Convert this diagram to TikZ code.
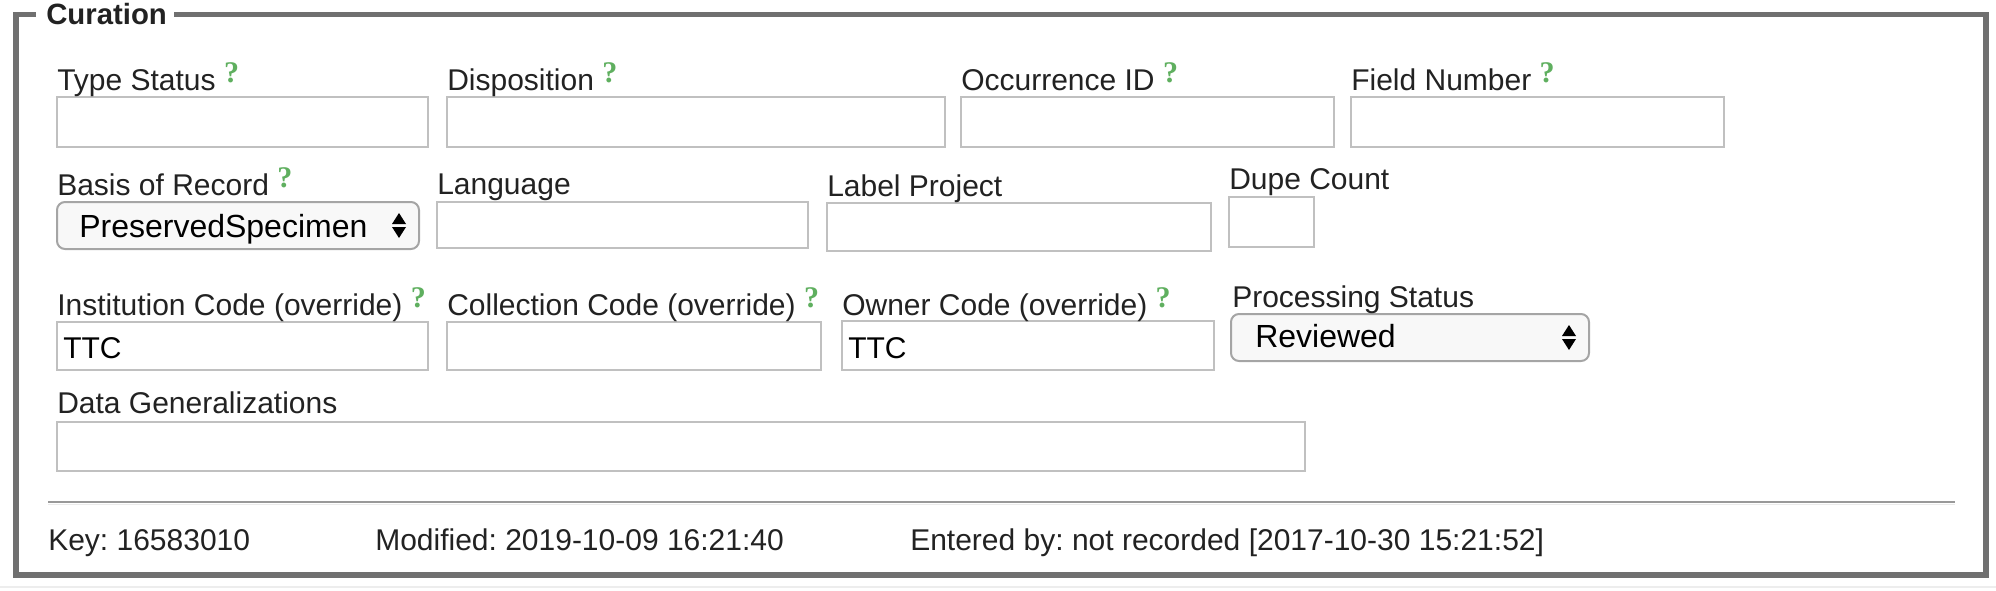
\documentclass[tikz,border=0pt]{standalone}
\usepackage{fontspec}
\setmainfont{Liberation Sans}
\newfontfamily\serifqm{Liberation Serif}
\usepackage{tikz}

\definecolor{labelgray}{RGB}{34,34,34}
\definecolor{helpgreen}{RGB}{95,175,95}
\definecolor{inputborder}{RGB}{192,192,192}
\definecolor{selectborder}{RGB}{165,165,165}
\definecolor{selectfill}{RGB}{248,248,248}
\definecolor{fieldsetgray}{RGB}{112,112,112}

\newcommand{\helpmark}{\raisebox{6pt}{\textcolor{helpgreen}{\serifqm\bfseries\fontsize{22.5}{22.5}\selectfont ?}}}

\tikzset{
  lbl/.style={anchor=base west, inner sep=0pt, text=labelgray, font=\fontsize{22.5}{26}\selectfont},
  val/.style={anchor=base west, inner sep=0pt, text=black, font=\fontsize{22.5}{26}\selectfont},
  selval/.style={anchor=base west, inner sep=0pt, text=black, font=\fontsize{24}{28}\selectfont},
  fieldbox/.style={draw=inputborder, line width=1.3pt, fill=white},
  selectbox/.style={draw=selectborder, line width=1.5pt, fill=selectfill, rounded corners=6pt},
}

\begin{document}
\frenchspacing
\begin{tikzpicture}[x=0.75pt,y=0.75pt,yscale=-1,xscale=1]
\useasboundingbox (0,0) rectangle (1996,590);

%Fieldset frame
\draw [color=black!7, line width=1.5pt] (0,587) -- (1996,587) ;
\draw [color=fieldsetgray, line width=3.8pt] (16,14.5) rectangle (1986,575) ;
\fill [white] (36,4) rectangle (174,26) ;
% Text Node
\node [anchor=base west, inner sep=0pt, text=labelgray, font=\bfseries\fontsize{22}{24}\selectfont] (legend) at (46,24) {Curation};

%Row 1
\draw [fieldbox] (57,97) rectangle (428,147) ;
\draw [fieldbox] (447,97) rectangle (945,147) ;
\draw [fieldbox] (961,97) rectangle (1334,147) ;
\draw [fieldbox] (1351,97) rectangle (1724,147) ;
% Text Node
\node [lbl] (typestatus) at (57,90) {Type Status \helpmark};
% Text Node
\node [lbl] (disposition) at (447,90) {Disposition \helpmark};
% Text Node
\node [lbl] (occurrenceid) at (961,90) {Occurrence ID \helpmark};
% Text Node
\node [lbl] (fieldnumber) at (1351,90) {Field Number \helpmark};

%Row 2
\draw [selectbox] (57,202) rectangle (419,249) ;
\fill [black] (392,224) -- (406,224) -- (399,213) -- cycle ;
\fill [black] (392,227) -- (406,227) -- (399,238) -- cycle ;
\draw [fieldbox] (437,202) rectangle (808,248) ;
\draw [fieldbox] (827,203) rectangle (1211,251) ;
\draw [fieldbox] (1229,197) rectangle (1314,247) ;
% Text Node
\node [lbl] (basisofrecord) at (57,195) {Basis of Record \helpmark};
% Text Node
\node [selval] (basisvalue) at (79,237) {PreservedSpecimen};
% Text Node
\node [lbl] (language) at (437,194) {Language};
% Text Node
\node [lbl] (labelproject) at (827,196) {Label Project};
% Text Node
\node [lbl] (dupecount) at (1229,189) {Dupe Count};

%Row 3
\draw [fieldbox] (57,322) rectangle (428,370) ;
\draw [fieldbox] (447,322) rectangle (821,370) ;
\draw [fieldbox] (842,321) rectangle (1214,370) ;
\draw [selectbox] (1231,314) rectangle (1589,361) ;
\fill [black] (1562,336) -- (1576,336) -- (1569,325) -- cycle ;
\fill [black] (1562,339) -- (1576,339) -- (1569,350) -- cycle ;
% Text Node
\node [lbl] (institutioncode) at (57,315) {Institution Code (override) \helpmark};
% Text Node
\node [val] (institutionvalue) at (63,358) {TTC};
% Text Node
\node [lbl] (collectioncode) at (447,315) {Collection Code (override) \helpmark};
% Text Node
\node [lbl] (ownercode) at (842,315) {Owner Code (override) \helpmark};
% Text Node
\node [val] (ownervalue) at (848,358) {TTC};
% Text Node
\node [lbl] (processingstatus) at (1232,307) {Processing Status};
% Text Node
\node [selval] (processingvalue) at (1255,347) {Reviewed};

%Row 4
\draw [fieldbox] (57,422) rectangle (1305,471) ;
% Text Node
\node [lbl] (datagen) at (57,413) {Data Generalizations};

%Footer
\draw [color=black!40, line width=1.5pt] (48,502) -- (1955,502) ;
\draw [color=black!8, line width=1pt] (48,504.5) -- (1955,504.5) ;
% Text Node
\node [lbl] (recordkey) at (48,550) {Key: 16583010};
% Text Node
\node [lbl] (modified) at (375,550) {Modified: 2019-10-09 16:21:40};
% Text Node
\node [lbl] (enteredby) at (910,550) {Entered by: not recorded [2017-10-30 15:21:52]};

\end{tikzpicture}
\end{document}
